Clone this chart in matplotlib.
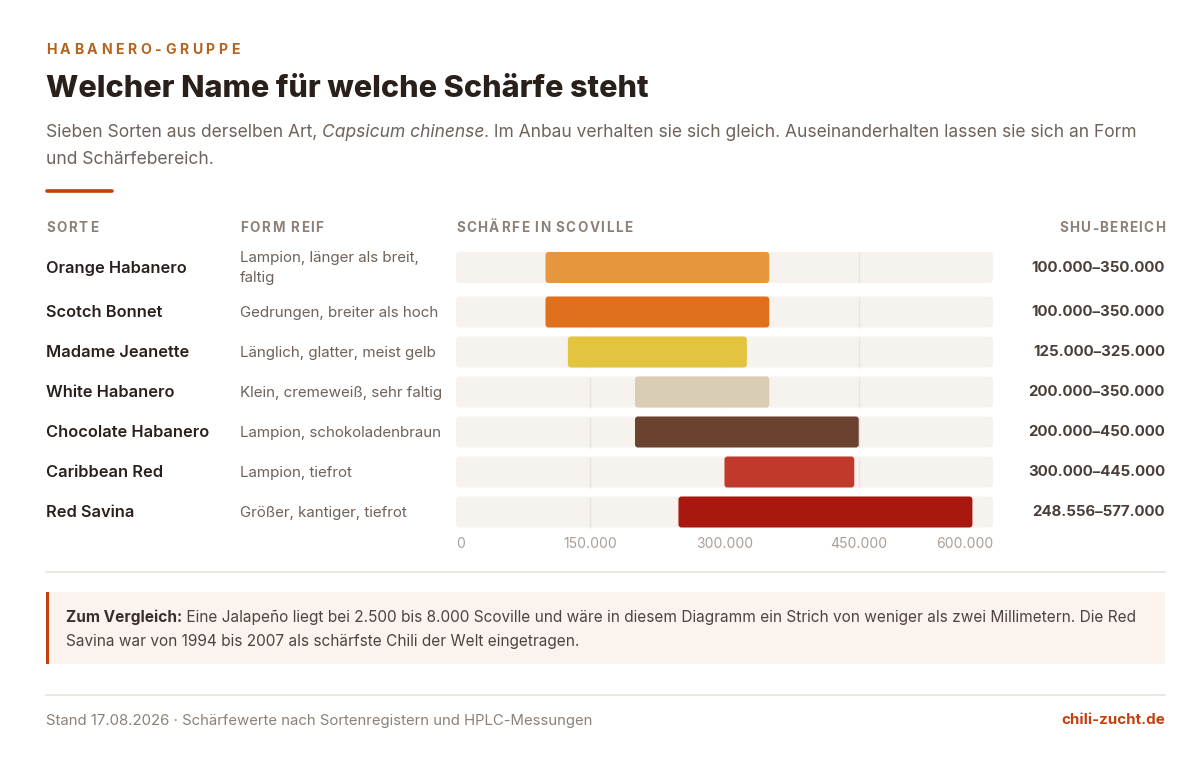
import matplotlib.pyplot as plt
from matplotlib.patches import FancyBboxPatch, Rectangle
from matplotlib.font_manager import FontProperties, findfont
from matplotlib.ft2font import FT2Font

plt.rcParams["font.family"] = ["Inter", "DejaVu Sans"]

sorten = ["Orange Habanero", "Scotch Bonnet", "Madame Jeanette", "White Habanero",
          "Chocolate Habanero", "Caribbean Red", "Red Savina"]
formen = ["Lampion, länger als breit,\nfaltig", "Gedrungen, breiter als hoch",
          "Länglich, glatter, meist gelb", "Klein, cremeweiß, sehr faltig",
          "Lampion, schokoladenbraun", "Lampion, tiefrot", "Größer, kantiger, tiefrot"]
shu_min = [100000, 100000, 125000, 200000, 200000, 300000, 248556]
shu_max = [350000, 350000, 325000, 350000, 450000, 445000, 577000]
farben = ["#e6963c", "#e0701c", "#e3c43f", "#d8ccb4", "#6b4230", "#c0392b", "#a8180f"]
ticks = [0, 150000, 300000, 450000, 600000]
tick_labels = ["0", "150.000", "300.000", "450.000", "600.000"]

DARK = "#2a201b"
BODY = "#6e625a"
HEAD = "#8c8178"
TICK = "#a99f97"
ACCENT = "#c2410c"
EYEBROW = "#b4641e"
TRACK = "#f6f2ee"
GRID = "#e9e3dd"

W, H = 1200, 763
fig = plt.figure(figsize=(12, 7.63), dpi=100)
fig.patch.set_facecolor("white")

L = fig.add_axes([0, 0, 1, 1])
L.set_xlim(0, W)
L.set_ylim(H, 0)
L.axis("off")

renderer = fig.canvas.get_renderer()


def width(s, **kw):
    t = L.text(0, 0, s, **kw)
    w = t.get_window_extent(renderer).width
    t.remove()
    return w


def tracked(x, y, s, spacing, size, weight="bold", ha="left", **kw):
    # gesperrte Versalien: Zeichen einzeln nach Vorschub setzen
    prop = FontProperties(family="Inter", weight=weight)
    font = FT2Font(findfont(prop), hinting_factor=1)
    font.set_size(size, 100)
    pos, pen = [], 0.0
    for c in s:
        g = font.load_char(ord(c))
        pos.append(pen)
        pen += g.horiAdvance / 64 + spacing
    total = pen - spacing
    if ha == "right":
        x = x - total
    for c, px_ in zip(s, pos):
        if c != " ":
            L.text(x + px_, y, c, va="center", ha="left", fontsize=size,
                   fontweight=weight, **kw)


def run(x, y, parts):
    for s, kw in parts:
        L.text(x, y, s, va="baseline", ha="left", **kw)
        x += width(s + "x", **kw) - width("x", **kw)


# Kopf
tracked(46, 50, "HABANERO-GRUPPE", 3.0, 10.2, color=EYEBROW)
L.text(46, 89, "Welcher Name für welche Schärfe steht", fontsize=22, fontweight=800,
       color=DARK, va="center")
sub = dict(fontsize=12.55, color=BODY)
run(46, 137, [("Sieben Sorten aus derselben Art, ", sub),
              ("Capsicum chinense", dict(sub, style="italic")),
              (". Im Anbau verhalten sie sich gleich. Auseinanderhalten lassen sie sich an Form", sub)])
run(46, 164, [("und Schärfebereich.", sub)])
L.plot([47, 112], [190.5, 190.5], color=ACCENT, lw=2.6, solid_capstyle="round")

# Spaltenkoepfe
tracked(46, 228.5, "SORTE", 1.3, 9.7, color=HEAD)
tracked(240, 228.5, "FORM REIF", 1.3, 9.7, color=HEAD)
tracked(456, 228.5, "SCHÄRFE IN SCOVILLE", 1.3, 9.7, color=HEAD)
tracked(1165, 228.5, "SHU-BEREICH", 1.3, 9.7, ha="right", color=HEAD)

# Zeilen
row_y = [267.5, 312, 352, 392, 432, 472, 512]
bar_h = 31

B = fig.add_axes([456 / W, 1 - 535 / H, 537 / W, 290 / H])
B.set_xlim(0, 600000)
B.set_ylim(535, 245)
B.axis("off")
px = 600000 / 537

for i, name in enumerate(sorten):
    y = row_y[i]
    L.text(46, y + 0.5, name, fontsize=11.8, fontweight=600, color=DARK, va="center")
    L.text(240, y + 0.5, formen[i], fontsize=10.9, color=BODY, va="center", linespacing=1.55)
    rng = f"{shu_min[i]:,}".replace(",", ".") + "–" + f"{shu_max[i]:,}".replace(",", ".")
    L.text(1165, y + 0.5, rng, fontsize=10.8, fontweight="bold", color="#4a3f38",
           va="center", ha="right")

    B.add_patch(FancyBboxPatch((0, y - bar_h / 2), 600000, bar_h,
                               boxstyle=f"round,pad=0,rounding_size={4 * px}",
                               mutation_aspect=1 / px, fc=TRACK, ec="none", zorder=1))
    B.vlines(ticks[1:-1], y - bar_h / 2, y + bar_h / 2, color=GRID, lw=1, zorder=2)
    B.add_patch(FancyBboxPatch((shu_min[i], y - bar_h / 2), shu_max[i] - shu_min[i], bar_h,
                               boxstyle=f"round,pad=0,rounding_size={3 * px}",
                               mutation_aspect=1 / px, fc=farben[i], ec="none", zorder=3))

for k, (t, lab) in enumerate(zip(ticks, tick_labels)):
    ha = "left" if k == 0 else ("right" if k == len(ticks) - 1 else "center")
    B.text(t, 544.5, lab, fontsize=10, color=TICK, ha=ha, va="center", clip_on=False)

# Trennlinie
L.plot([46, 1165], [571.5, 571.5], color="#e8e3de", lw=1.2)

# Vergleichskasten
L.add_patch(Rectangle((46, 592), 1119, 72, fc="#fbf3ee", ec="none"))
L.add_patch(Rectangle((46, 592), 2.5, 72, fc=ACCENT, ec="none"))
ck = dict(fontsize=11.1, color="#4f443d")
run(66, 622, [("Zum Vergleich:", dict(ck, fontweight="bold", color="#3a2f29")),
              (" Eine Jalapeño liegt bei 2.500 bis 8.000 Scoville und wäre in diesem Diagramm ein Strich von weniger als zwei Millimetern. Die Red", ck)])
run(66, 646, [("Savina war von 1994 bis 2007 als schärfste Chili der Welt eingetragen.", ck)])

# Fuss
L.plot([46, 1165], [694.5, 694.5], color="#e8e3de", lw=1.2)
L.text(46, 720.5, "Stand 17.08.2026 · Schärfewerte nach Sortenregistern und HPLC-Messungen",
       fontsize=10.75, color=HEAD, va="center")
L.text(1165, 720.5, "chili-zucht.de", fontsize=10.9, fontweight="bold", color=ACCENT,
       va="center", ha="right")

fig.savefig("out.png", dpi=100)
